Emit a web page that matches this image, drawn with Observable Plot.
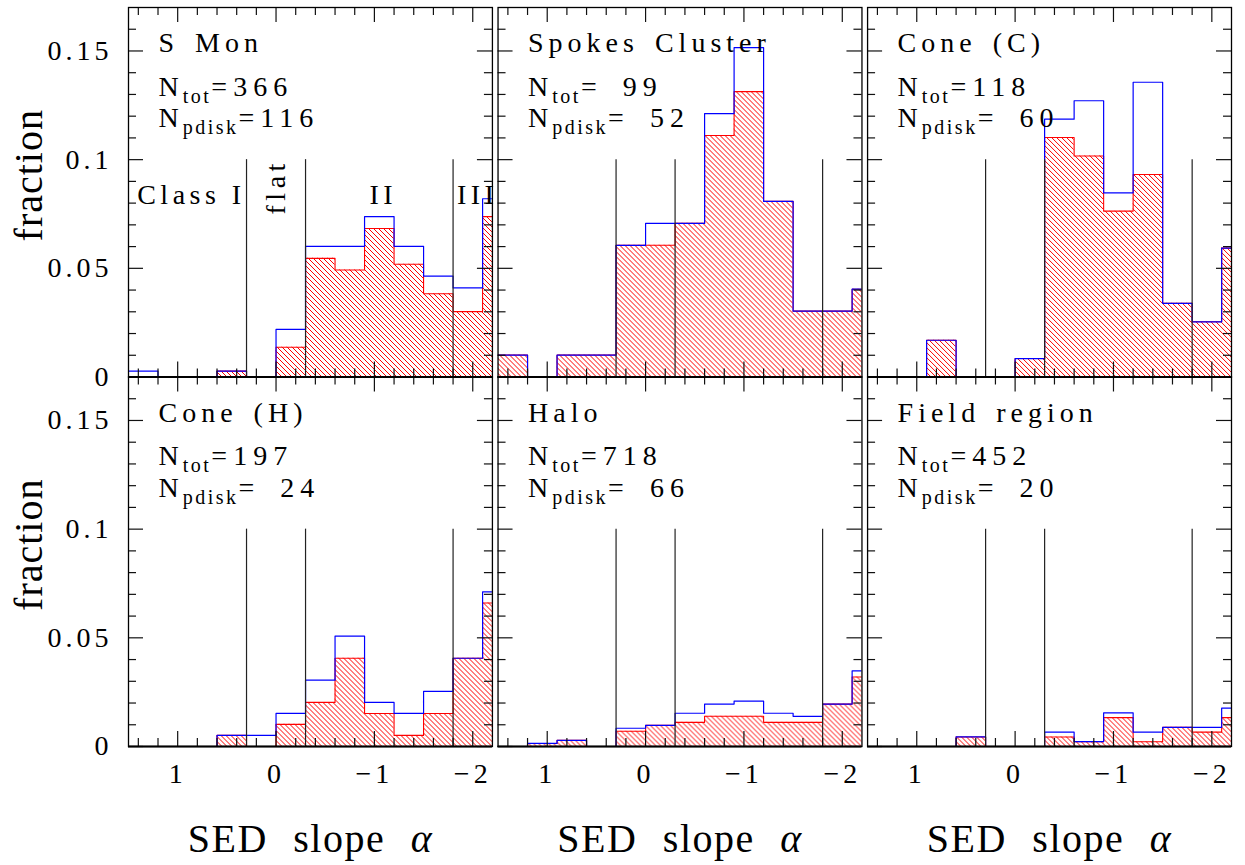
<!DOCTYPE html>
<html><head><meta charset="utf-8">
<script src="https://cdn.jsdelivr.net/npm/d3@7"></script>
<script src="https://cdn.jsdelivr.net/npm/@observablehq/plot@0.6"></script>
<style>
body{margin:0;background:#fff;}
</style>
</head><body><div id="chart"></div>
<script>
// ---------- data ----------
const regions = ["S Mon", "Spokes Cluster", "Cone (C)", "Cone (H)", "Halo", "Field region"];
const nTot = [366, 99, 118, 197, 718, 452];
const nPdisk = [116, 52, 60, 24, 66, 20];

// histogram bin edges in SED slope alpha (13 bins of width 0.3)
const binEdges = [1.5, 1.2, 0.9, 0.6, 0.3, 0.0, -0.3, -0.6, -0.9, -1.2, -1.5, -1.8, -2.1, -2.4];

// blue: all sources, red hatched: disk sources (fractions)
const sMonAll    = [0.0027, 0, 0, 0.0027, 0, 0.0219, 0.0601, 0.0601, 0.0738, 0.0601, 0.0464, 0.0410, 0.0820];
const sMonDisk   = [0, 0, 0, 0.0027, 0, 0.0137, 0.0546, 0.0492, 0.0683, 0.0519, 0.0383, 0.0301, 0.0738];
const spokesAll  = [0.0101, 0, 0.0101, 0.0101, 0.0606, 0.0707, 0.0707, 0.1212, 0.1515, 0.0808, 0.0303, 0.0303, 0.0404];
const spokesDisk = [0.0101, 0, 0.0101, 0.0101, 0.0606, 0.0606, 0.0707, 0.1111, 0.1313, 0.0808, 0.0303, 0.0303, 0.0404];
const coneCAll   = [0, 0, 0.0169, 0, 0, 0.0085, 0.1186, 0.1271, 0.0847, 0.1356, 0.0339, 0.0254, 0.0593];
const coneCDisk  = [0, 0, 0.0169, 0, 0, 0.0085, 0.1102, 0.1017, 0.0763, 0.0932, 0.0339, 0.0254, 0.0593];
const coneHAll   = [0, 0, 0, 0.0051, 0.0051, 0.0152, 0.0305, 0.0508, 0.0203, 0.0152, 0.0254, 0.0406, 0.0711];
const coneHDisk  = [0, 0, 0, 0.0051, 0, 0.0102, 0.0203, 0.0406, 0.0152, 0.0051, 0.0152, 0.0406, 0.0660];
const haloAll    = [0, 0.0014, 0.0028, 0, 0.0084, 0.0097, 0.0153, 0.0195, 0.0209, 0.0153, 0.0139, 0.0195, 0.0348];
const haloDisk   = [0, 0.0014, 0.0028, 0, 0.0070, 0.0097, 0.0111, 0.0139, 0.0139, 0.0111, 0.0111, 0.0195, 0.0320];
const fieldAll   = [0, 0, 0, 0.0044, 0, 0, 0.0066, 0.0022, 0.0155, 0.0066, 0.0088, 0.0088, 0.0177];
const fieldDisk  = [0, 0, 0, 0.0044, 0, 0, 0.0044, 0.0022, 0.0133, 0.0022, 0.0088, 0.0066, 0.0133];

const fracAll  = [sMonAll, spokesAll, coneCAll, coneHAll, haloAll, fieldAll];
const fracDisk = [sMonDisk, spokesDisk, coneCDisk, coneHDisk, haloDisk, fieldDisk];

// class boundaries
const classCuts = [0.3, -0.3, -1.8];
const classLineTop = 0.1;
const classLabels = ["Class I", "flat", "II", "III"];
const classLabelX = [0.86, 0.0, -1.09, -2.05];
const classLabelY = [0.0797, 0.0875, 0.0797, 0.0797];
const classLabelRotate = [0, -90, 0, 0];

// ticks
const xMajor = [1, 0, -1, -2];
const xTickLabels = ["1", "0", "\u22121", "\u22122"];
const xMinor = [1.4, 1.2, 0.8, 0.6, 0.4, 0.2, -0.2, -0.4, -0.6, -0.8, -1.2, -1.4, -1.6, -1.8];
const yMajor = [0, 0.05, 0.1, 0.15];
const yTickLabels = ["0", "0.05", "0.1", "0.15"];
const yMinor = [0.01, 0.02, 0.03, 0.04, 0.06, 0.07, 0.08, 0.09, 0.11, 0.12, 0.13, 0.14, 0.16];

const xTitle = "SED slope \u03b1";
const yTitle = "fraction";

// ---------- layout ----------
const W = 1245, H = 865, mL = 128, mR = 14, mT = 7, mB = 119, padX = 0.0152;
const fw = (W - mL - mR) / (3 - padX) * (1 - padX);
const fh = (H - mT - mB) / 2;
const majorLen = 15, minorLen = 8;

// ---------- tables ----------
const panels = regions.map((name, i) => ({
  name, col: i % 3, row: Math.floor(i / 3), nTot: nTot[i], nPdisk: nPdisk[i]
}));
const pad3 = n => String(n).padStart(3, "\u2007");
const hist = [];
panels.forEach((p, i) => {
  binEdges.forEach((x, k) => {
    const b = Math.min(k, fracAll[i].length - 1);
    hist.push({col: p.col, row: p.row, x, all: fracAll[i][b], disk: fracDisk[i][b]});
  });
});
const classRules = panels.flatMap(p => classCuts.map(x => ({col: p.col, row: p.row, x})));
const classText = classLabels.map((t, i) => ({t, x: classLabelX[i], y: classLabelY[i], r: classLabelRotate[i]}));
const xLabelData = [0, 1, 2].flatMap(c => xMajor.map((v, i) => ({col: c, row: 1, v, t: xTickLabels[i]})));
const yLabelData = [0, 1].flatMap(r => yMajor.map((v, i) => ({col: 0, row: r, v, t: yTickLabels[i]})));

const tickStyle = {stroke: "#111", strokeWidth: 1.2};

const svg = Plot.plot({
  width: W, height: H,
  marginLeft: mL, marginRight: mR, marginTop: mT, marginBottom: mB,
  style: {fontFamily: "'Liberation Serif', 'DejaVu Serif', serif", background: "white", color: "black"},
  x: {domain: [1.5, -2.2], axis: null},
  y: {domain: [0, 0.17], axis: null},
  fx: {domain: [0, 1, 2], paddingInner: padX, paddingOuter: 0, round: false, axis: null},
  fy: {domain: [0, 1], paddingInner: 0, paddingOuter: 0, round: false, axis: null},
  marks: [
    Plot.areaY(hist, {x: "x", y: "disk", fx: "col", fy: "row", curve: "step-after", fill: "url(#hatch)", clip: true}),
    Plot.lineY(hist, {x: "x", y: "disk", fx: "col", fy: "row", curve: "step-after", stroke: "#ff0000", strokeWidth: 1.1, clip: true}),
    Plot.lineY(hist, {x: "x", y: "all", fx: "col", fy: "row", curve: "step-after", stroke: "#0000ff", strokeWidth: 1.2, clip: true}),
    Plot.ruleX(classRules, {x: "x", y1: 0, y2: classLineTop, fx: "col", fy: "row", stroke: "#222", strokeWidth: 1.2}),
    // inward ticks on all sides
    Plot.ruleX(xMajor, {x: d => d, insetTop: fh - majorLen, ...tickStyle}),
    Plot.ruleX(xMajor, {x: d => d, insetBottom: fh - majorLen, ...tickStyle}),
    Plot.ruleX(xMinor, {x: d => d, insetTop: fh - minorLen, ...tickStyle}),
    Plot.ruleX(xMinor, {x: d => d, insetBottom: fh - minorLen, ...tickStyle}),
    Plot.ruleY(yMajor, {y: d => d, insetRight: fw - majorLen, ...tickStyle}),
    Plot.ruleY(yMajor, {y: d => d, insetLeft: fw - majorLen, ...tickStyle}),
    Plot.ruleY(yMinor, {y: d => d, insetRight: fw - minorLen, ...tickStyle}),
    Plot.ruleY(yMinor, {y: d => d, insetLeft: fw - minorLen, ...tickStyle}),
    Plot.frame({stroke: "black", strokeWidth: 1.3}),
    Plot.ruleY([0], {stroke: "black", strokeWidth: 2.2}),
    // panel annotations
    Plot.text(panels, {fx: "col", fy: "row", text: "name", frameAnchor: "top-left", textAnchor: "start",
      lineAnchor: "bottom", dx: 30, dy: 44.7, fontSize: 28, ariaDescription: "panel-title"}),
    Plot.text(panels, {fx: "col", fy: "row", text: d => `N|tot|=${pad3(d.nTot)}`, frameAnchor: "top-left", textAnchor: "start",
      lineAnchor: "bottom", dx: 30, dy: 88, fontSize: 28, ariaDescription: "n-label"}),
    Plot.text(panels, {fx: "col", fy: "row", text: d => `N|pdisk|=${pad3(d.nPdisk)}`, frameAnchor: "top-left", textAnchor: "start",
      lineAnchor: "bottom", dx: 30, dy: 119.7, fontSize: 28, ariaDescription: "n-label"}),
    Plot.text(classText.filter(d => d.r === 0), {x: "x", y: "y", text: "t", fx: () => 0, fy: () => 0,
      textAnchor: "middle", lineAnchor: "bottom", fontSize: 28, ariaDescription: "class-label"}),
    Plot.text(classText.filter(d => d.r !== 0), {x: "x", y: "y", text: "t", rotate: d => d.r, fx: () => 0, fy: () => 0,
      textAnchor: "middle", lineAnchor: "middle", fontSize: 28, ariaDescription: "class-label"}),
    // tick labels
    Plot.text(xLabelData, {x: "v", text: "t", fx: "col", fy: "row", frameAnchor: "bottom", lineAnchor: "middle",
      dy: 28, fontSize: 28, ariaDescription: "tick-label"}),
    Plot.text(yLabelData, {y: "v", text: "t", fx: "col", fy: "row", frameAnchor: "left", textAnchor: "end",
      lineAnchor: "middle", dx: -16, fontSize: 28, ariaDescription: "tick-label"}),
    // axis titles
    Plot.text([0, 1, 2], {fx: d => d, fy: () => 1, text: () => xTitle, frameAnchor: "bottom", lineAnchor: "bottom",
      dy: 105.7, fontSize: 40, ariaDescription: "x-title"}),
    Plot.text([0, 1], {fx: () => 0, fy: d => d, text: () => yTitle, frameAnchor: "left", rotate: -90,
      textAnchor: "middle", lineAnchor: "middle", dx: -99, dy: -17, fontSize: 40, ariaDescription: "y-title"})
  ]
});

// hatch pattern
d3.select(svg).insert("defs", ":first-child").html(
  `<pattern id="hatch" patternUnits="userSpaceOnUse" width="5" height="5">` +
  `<path d="M-1,-1L6,6M-1,4L1,6M4,-1L6,1" stroke="#ff0000" stroke-width="1" fill="none"/></pattern>`);

const S = d3.select(svg);
const sel = key => S.selectAll(`[aria-description="${key}"] text`);
sel("panel-title").style("letter-spacing", "5px").style("word-spacing", "4px");
sel("class-label").style("letter-spacing", "4.5px");
sel("tick-label").style("letter-spacing", "4px");
sel("x-title").style("letter-spacing", "1.5px").style("word-spacing", "14px");
sel("y-title").style("letter-spacing", "1px");
sel("n-label").each(function () {
  const parts = this.textContent.split("|");
  const t = d3.select(this).text(null).style("white-space", "pre");
  t.append("tspan").style("letter-spacing", "4px").text(parts[0]);
  t.append("tspan").attr("font-size", "20").style("letter-spacing", "2.5px").attr("dy", 7).text(parts[1]);
  t.append("tspan").style("letter-spacing", "6px").attr("dy", -7).text(parts[2]);
});
sel("x-title").each(function () {
  const s = this.textContent;
  const t = d3.select(this).text(null).style("white-space", "pre");
  t.append("tspan").text(s.slice(0, -1));
  t.append("tspan").attr("font-style", "italic").text(s.slice(-1));
});

document.getElementById("chart").appendChild(svg);
</script>
</body></html>
